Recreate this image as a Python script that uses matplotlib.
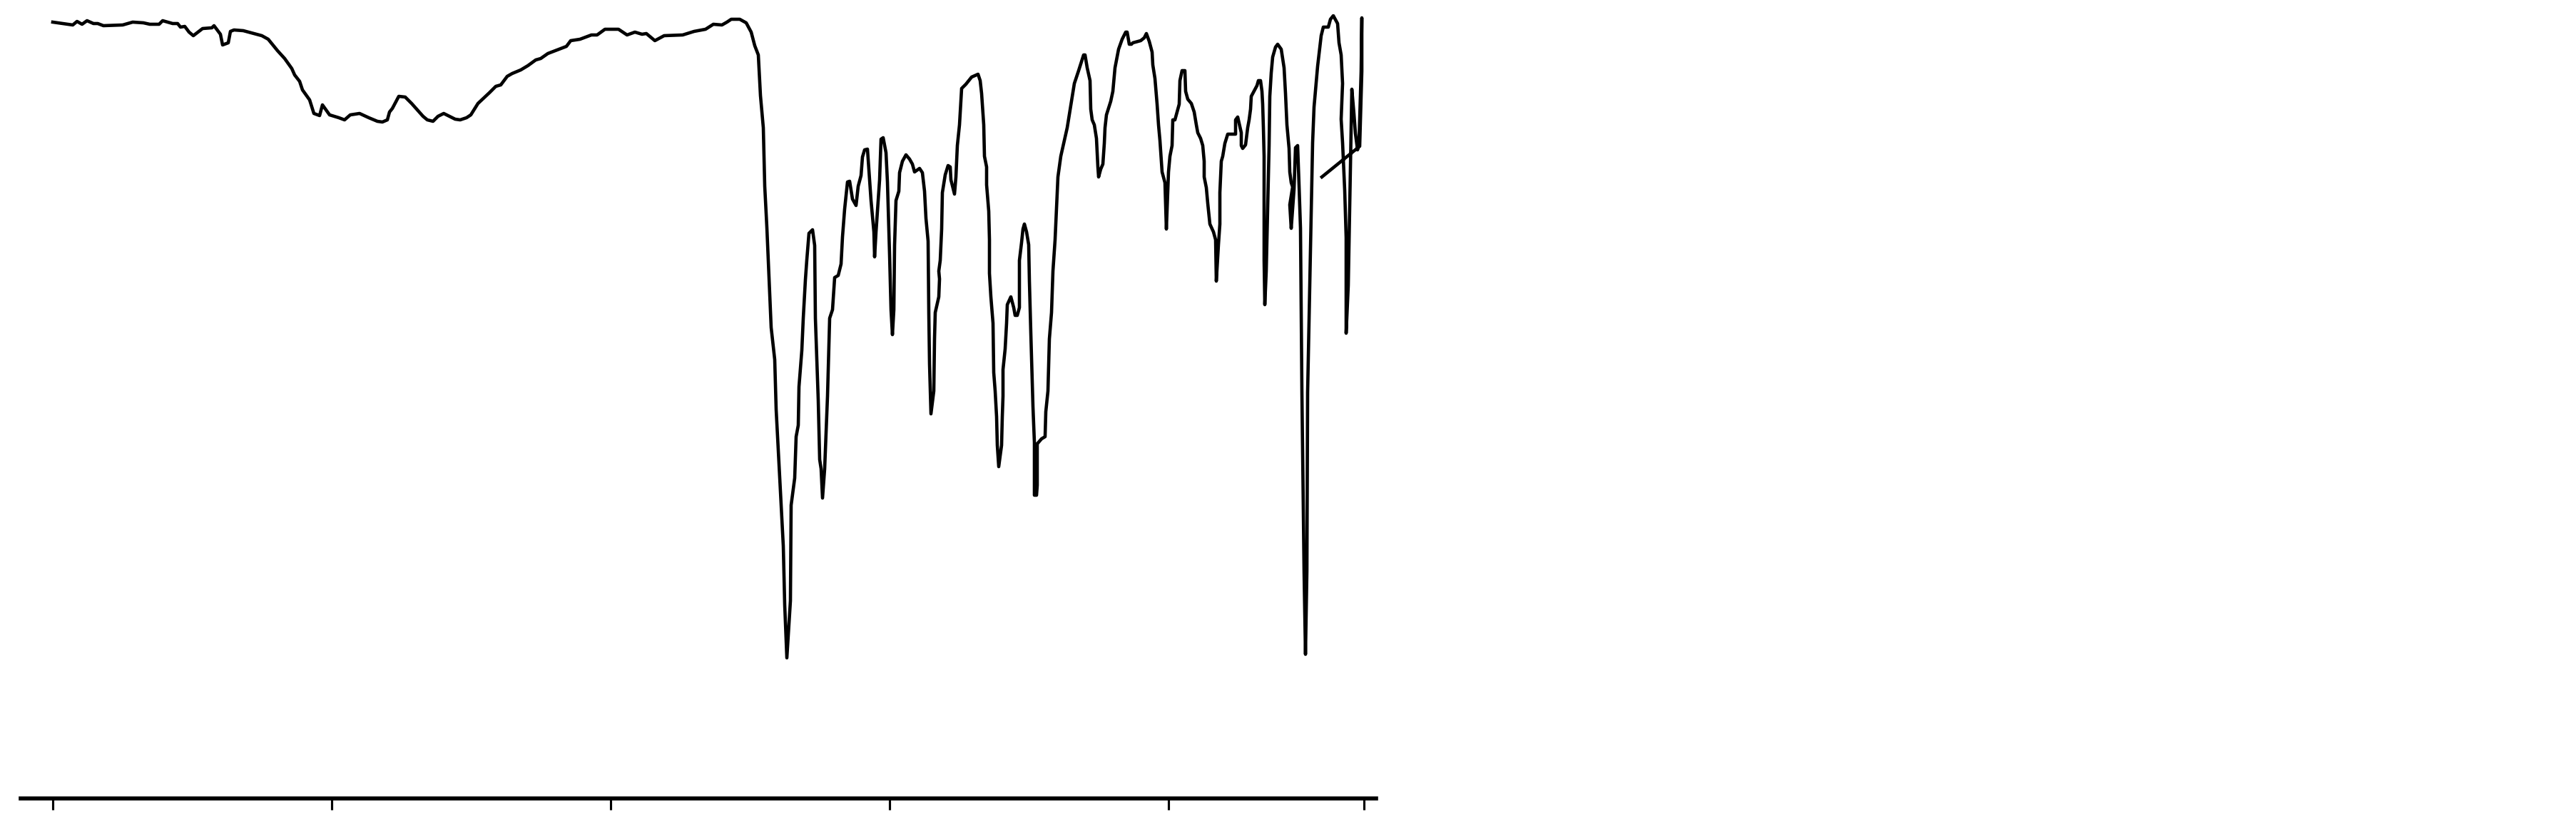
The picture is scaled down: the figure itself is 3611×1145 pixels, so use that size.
import matplotlib
matplotlib.use("Agg")
import matplotlib.pyplot as plt

# IR-like spectrum, wavenumber (cm-1) vs transmittance (arbitrary units)
wavenumber = [
    4000, 3944, 3932, 3918, 3904, 3886, 3874, 3858, 3804, 3776, 3746, 3728, 3702, 3692, 3664, 3650,
    3642, 3630, 3618, 3606, 3580, 3554, 3548, 3530, 3524, 3508, 3502, 3492, 3466, 3414, 3396, 3370,
    3350, 3330, 3322, 3308, 3300, 3280, 3268, 3252, 3244, 3224, 3198, 3182, 3166, 3140, 3114, 3090,
    3076, 3062, 3056, 3048, 3030, 3012, 2994, 2962, 2950, 2934, 2920, 2904, 2872, 2858, 2840, 2828,
    2808, 2776, 2758, 2744, 2726, 2712, 2688, 2668, 2646, 2632, 2612, 2560, 2548, 2522, 2490, 2474,
    2452, 2414, 2390, 2368, 2348, 2336, 2312, 2286, 2234, 2202, 2170, 2148, 2124, 2110, 2098, 2074,
    2056, 2042, 2032, 2022, 2016, 2008, 2004, 1998, 1986, 1976, 1972, 1962, 1952, 1948, 1942, 1932,
    1930, 1920, 1916, 1910, 1908, 1900, 1896, 1890, 1886, 1880, 1870, 1864, 1862, 1854, 1850, 1846,
    1842, 1836, 1832, 1828, 1822, 1814, 1808, 1798, 1790, 1786, 1780, 1772, 1766, 1758, 1748, 1742,
    1734, 1730, 1724, 1716, 1706, 1698, 1696, 1692, 1686, 1682, 1678, 1672, 1664, 1660, 1654, 1650,
    1646, 1642, 1640, 1636, 1628, 1626, 1618, 1608, 1598, 1590, 1584, 1570, 1562, 1556, 1552, 1546,
    1544, 1542, 1538, 1530, 1528, 1526, 1516, 1514, 1516, 1512, 1508, 1506, 1498, 1490, 1484, 1482,
    1472, 1468, 1464, 1458, 1452, 1440, 1424, 1406, 1400, 1396, 1390, 1388, 1382, 1382, 1376, 1374,
    1374, 1370, 1364, 1362, 1358, 1354, 1352, 1348, 1340, 1338, 1336, 1336, 1330, 1326, 1324, 1314,
    1306, 1302, 1296, 1290, 1290, 1284, 1280, 1276, 1270, 1264, 1262, 1258, 1252, 1248, 1248, 1242,
    1240, 1240, 1228, 1218, 1216, 1210, 1206, 1200, 1196, 1190, 1182, 1174, 1164, 1156, 1136, 1124,
    1110, 1106, 1100, 1092, 1090, 1086, 1080, 1074, 1070, 1068, 1062, 1056, 1052, 1050, 1046, 1034,
    1028, 1022, 1012, 1002, 992, 988, 982, 976, 972, 950, 940, 934, 926, 918, 916, 910,
    904, 900, 896, 890, 882, 878, 872, 868, 862, 860, 854, 842, 840, 834, 826, 824,
    818, 808, 800, 794, 790, 782, 776, 772, 772, 766, 762, 756, 746, 740, 738, 732,
    728, 728, 724, 720, 714, 706, 684, 684, 678, 668, 668, 664, 656, 650, 646, 642,
    640, 624, 620, 614, 610, 608, 606, 604, 604, 602, 598, 594, 590, 588, 584, 580,
    572, 566, 556, 548, 544, 540, 534, 532, 528, 524, 532, 528, 520, 516, 510, 506,
    502, 498, 492, 488, 484, 482, 476, 472, 468, 464, 454, 444, 438, 424, 418, 410,
    398, 394, 388, 384, 388, 384, 378, 374, 374, 368, 362, 358, 352, 348, 342, 338,
    332, 330, 330, 336, 442,
]
transmittance = [
    1088, 1084, 1089, 1085, 1090, 1086, 1086, 1083, 1084, 1088, 1087, 1085, 1085, 1090, 1086, 1086,
    1081, 1082, 1074, 1069, 1079, 1080, 1083, 1071, 1056, 1059, 1075, 1077, 1076, 1069, 1064, 1048,
    1037, 1023, 1014, 1005, 993, 979, 960, 957, 972, 958, 954, 951, 958, 960, 954, 949,
    948, 951, 962, 967, 984, 983, 974, 956, 951, 949, 956, 960, 952, 951, 954, 958,
    974, 989, 998, 1000, 1012, 1016, 1021, 1027, 1035, 1037, 1044, 1054, 1062, 1064, 1070, 1070,
    1078, 1078, 1070, 1074, 1071, 1072, 1062, 1069, 1070, 1075, 1078, 1085, 1084, 1088, 1092, 1092,
    1087, 1074, 1055, 1042, 985, 940, 858, 800, 660, 615, 545, 449, 354, 271, 197, 277,
    411, 449, 507, 523, 577, 628, 673, 727, 755, 792, 797, 775, 673, 558, 475, 462,
    421, 462, 513, 564, 673, 685, 730, 733, 749, 787, 826, 864, 865, 840, 831, 858,
    873, 899, 909, 910, 838, 794, 759, 794, 838, 867, 924, 926, 905, 864, 762, 685,
    650, 685, 775, 838, 851, 877, 893, 902, 896, 889, 878, 883, 877, 851, 813, 781,
    679, 609, 539, 571, 644, 681, 703, 728, 739, 754, 798, 849, 874, 887, 885, 867,
    847, 871, 915, 944, 995, 1001, 1011, 1015, 1006, 988, 944, 900, 885, 860, 823, 783,
    736, 703, 666, 597, 571, 535, 495, 465, 495, 535, 564, 601, 630, 666, 692, 703,
    688, 677, 677, 688, 754, 779, 798, 805, 794, 776, 725, 652, 549, 499, 425, 425,
    439, 497, 504, 507, 542, 571, 644, 681, 739, 783, 871, 900, 922, 940, 1002, 1020,
    1042, 1042, 1024, 1006, 966, 951, 944, 925, 885, 871, 882, 889, 918, 940, 958, 977,
    991, 1024, 1050, 1064, 1074, 1074, 1057, 1057, 1059, 1062, 1066, 1072, 1061, 1046, 1028, 1009,
    973, 944, 922, 878, 863, 798, 878, 900, 915, 951, 951, 973, 1006, 1020, 1020, 991,
    980, 974, 962, 944, 933, 925, 915, 893, 871, 856, 834, 805, 794, 783, 725, 776,
    805, 849, 893, 900, 918, 931, 931, 951, 955, 933, 915, 911, 916, 940, 951, 966,
    984, 999, 1006, 1006, 991, 973, 940, 900, 754, 692, 739, 827, 915, 984, 1017, 1039,
    1053, 1057, 1050, 1024, 988, 944, 911, 878, 863, 857, 832, 799, 854, 912, 915, 859,
    799, 569, 319, 202, 319, 569, 719, 819, 919, 969, 1026, 1069, 1081, 1081, 1092, 1097,
    1086, 1059, 1042, 1002, 952, 919, 852, 786, 652, 719, 886, 994, 959, 932, 909, 919,
    1019, 1094, 1019, 914, 871,
]
tick_positions = [4000, 3218, 2436, 1654, 872, 324]

fig = plt.figure(figsize=(12.04, 3.8167), dpi=300)
ax = fig.add_axes([29.5 / 3612, 26 / 1145, 1899.5 / 3612, 1099 / 1145])

ax.plot(wavenumber, transmittance, color="black", linewidth=1.1)

ax.set_xlim(4089, 290)
ax.set_ylim(0, 1099)

for side in ["top", "right", "left"]:
    ax.spines[side].set_visible(False)
ax.spines["bottom"].set_linewidth(1.35)

ax.set_xticks(tick_positions)
ax.set_xticklabels([])
ax.set_yticks([])
ax.tick_params(axis="x", length=3.8, width=0.75, color="black")

fig.savefig("out.png", dpi=300)
